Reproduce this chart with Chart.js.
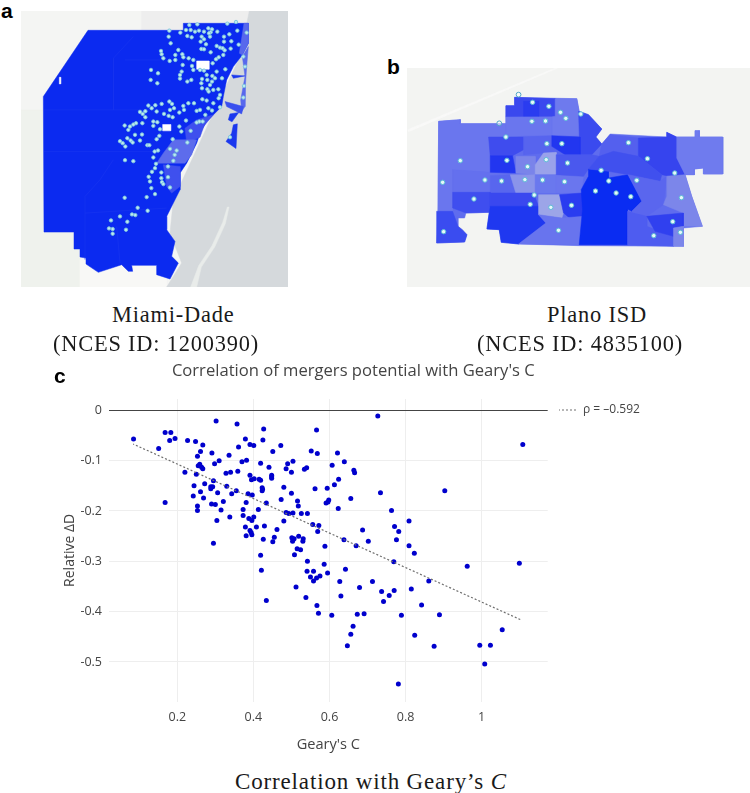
<!DOCTYPE html>
<html>
<head>
<meta charset="utf-8">
<title>School district mergers and Geary's C</title>
<script src="https://cdn.jsdelivr.net/npm/chart.js@4/dist/chart.umd.min.js"></script>
<style>
  html, body { margin: 0; padding: 0; background: #fff; width: 750px; height: 793px; overflow: hidden; }
  canvas { position: absolute; display: block; }
  .cap { position: absolute; font-family: "Liberation Serif", serif; color: #1a1a1a; white-space: nowrap; font-size: 22.4px; line-height: 29px; letter-spacing: 0.8px; }
  .tag { position: absolute; font-family: "Liberation Sans", sans-serif; font-weight: bold; font-size: 21px; line-height: 22px; color: #000; }
</style>
</head>
<body>
<canvas id="mapA" width="267" height="276" style="left:21px;top:11px"></canvas>
<canvas id="mapB" width="343" height="219" style="left:407px;top:68px"></canvas>
<canvas id="scatter" width="750" height="410" style="left:0;top:355px"></canvas>

<div class="tag" style="left:1px;top:0">a</div>
<div class="tag" style="left:387px;top:56px">b</div>
<div class="tag" style="left:54px;top:365px">c</div>
<div class="cap" style="left:112px;top:300px">Miami-Dade</div>
<div class="cap" style="left:53px;top:329px">(NCES ID: 1200390)</div>
<div class="cap" style="left:547px;top:300px">Plano ISD</div>
<div class="cap" style="left:477px;top:329px">(NCES ID: 4835100)</div>
<div class="cap" style="left:235px;top:767px;font-size:23px;letter-spacing:0.85px">Correlation with Geary’s <i>C</i></div>

<script>
// Panel c: each district's Geary's C and relative change in dissimilarity
const gearyC = [
  0.085,0.168,0.183,0.194,0.180,0.151,0.168,0.227,0.248,0.267,0.261,0.253,0.302,0.357,0.427,0.425,0.379,0.391,0.401,0.361,
  0.451,0.472,0.291,0.336,0.310,0.298,0.382,0.370,0.419,0.259,0.255,0.264,0.267,0.220,0.250,0.328,0.340,0.359,0.441,0.490,
  0.486,0.504,0.500,0.534,0.540,0.448,0.448,0.448,0.391,0.395,0.402,0.415,0.419,0.295,0.272,0.244,0.288,0.293,0.288,0.330,
  0.480,0.423,0.424,0.423,0.355,0.343,0.306,0.261,0.242,0.269,0.386,0.397,0.500,0.473,0.516,0.518,0.434,0.381,0.290,0.300,
  0.253,0.253,0.321,0.315,0.373,0.413,0.486,0.493,0.504,0.526,0.542,0.373,0.401,0.388,0.396,0.338,0.304,0.480,0.379,0.408,
  0.429,0.462,0.391,0.394,0.381,0.396,0.295,0.426,0.419,0.421,0.434,
  0.455,0.451,0.501,0.503,0.507,0.519,0.531,0.530,0.569,0.588,0.515,0.524,0.508,0.542,0.586,0.541,0.558,0.575,0.566,0.550,
  0.558,0.595,0.642,0.627,0.713,0.679,0.512,0.538,0.567,0.630,0.737,0.770,0.757,0.742,0.815,0.842,0.861,0.769,0.638,0.670,
  0.702,0.687,0.782,0.776,0.809,0.823,
  0.727,1.108,0.566,0.552,0.568,0.621,0.639,0.607,0.664,0.666,0.624,0.613,0.562,0.594,0.903,0.734,0.656,0.591,0.596,0.598,
  0.623,0.763,0.809,0.556,0.572,0.771,0.962,1.099,
  0.571,0.606,0.673,0.691,0.789,0.889,0.662,0.656,0.824,0.647,0.875,1.054,0.995,1.023,1.008,0.781
];
const relativeDeltaD = [
  -0.057,-0.044,-0.044,-0.056,-0.060,-0.076,-0.183,-0.060,-0.062,-0.069,-0.082,-0.091,-0.021,-0.027,-0.037,-0.059,-0.057,-0.068,-0.070,-0.073,
  -0.082,-0.070,-0.085,-0.089,-0.100,-0.106,-0.099,-0.102,-0.105,-0.107,-0.110,-0.113,-0.116,-0.123,-0.127,-0.125,-0.123,-0.121,-0.113,-0.106,
  -0.116,-0.101,-0.123,-0.117,-0.114,-0.129,-0.132,-0.135,-0.129,-0.138,-0.136,-0.137,-0.139,-0.140,-0.146,-0.150,-0.152,-0.152,-0.156,-0.151,
  -0.153,-0.154,-0.157,-0.160,-0.160,-0.166,-0.164,-0.162,-0.170,-0.174,-0.166,-0.168,-0.165,-0.177,-0.180,-0.190,-0.184,-0.183,-0.186,-0.187,
  -0.190,-0.199,-0.181,-0.198,-0.197,-0.197,-0.203,-0.205,-0.204,-0.205,-0.205,-0.209,-0.212,-0.215,-0.219,-0.212,-0.219,-0.220,-0.232,-0.232,
  -0.230,-0.237,-0.239,-0.243,-0.249,-0.247,-0.264,-0.256,-0.288,-0.318,-0.378,
  -0.252,-0.261,-0.253,-0.260,-0.255,-0.250,-0.255,-0.260,-0.241,-0.270,-0.275,-0.277,-0.287,-0.300,-0.306,-0.320,-0.320,-0.329,-0.333,-0.331,
  -0.339,-0.323,-0.316,-0.340,-0.340,-0.352,-0.351,-0.372,-0.388,-0.369,-0.360,-0.358,-0.368,-0.380,-0.355,-0.387,-0.339,-0.301,-0.257,-0.269,
  -0.260,-0.238,-0.241,-0.257,-0.269,-0.284,
  -0.011,-0.068,-0.039,-0.081,-0.086,-0.085,-0.102,-0.109,-0.119,-0.124,-0.137,-0.148,-0.156,-0.155,-0.160,-0.164,-0.175,-0.184,-0.182,-0.178,
  -0.195,-0.199,-0.220,-0.227,-0.229,-0.231,-0.310,-0.304,
  -0.403,-0.407,-0.405,-0.404,-0.407,-0.406,-0.429,-0.445,-0.447,-0.468,-0.469,-0.436,-0.467,-0.467,-0.504,-0.544
];
const fitC = [0.084, 1.105];
const fitDeltaD = [-0.067, -0.417];
const xTicks = [0.2, 0.4, 0.6, 0.8, 1];
const yTicks = [0, -0.1, -0.2, -0.3, -0.4, -0.5];
const rhoLabel = 'ρ = –0.592';

// Panel a: Miami-Dade regions, in the map's own grid units
const mapAExtent = { x: [63, 864], y: [33, 862] };
const mapARegions = [
  { color: '#f4f5f3', ring: [[63,33],[864,33],[864,862],[63,862]] },
  { color: '#eff2ed', ring: [[63,330],[240,330],[240,862],[63,862]] },
  { color: '#f8f8f6', ring: [[240,780],[500,780],[500,862],[240,862]] },
  { color: '#eeeeee', ring: [[425,33],[748,33],[748,72],[550,72],[550,91],[425,91]] },
  { color: '#d5d9dc', ring: [[748,33],[864,33],[864,862],[500,862],[545,790],[510,700],[520,600],[640,340],[720,170]] },
  { color: '#e9ecea', ring: [[682,622],[687,622],[676,672],[644,742],[604,802],[590,862],[572,862],[596,798],[636,738],[668,668]] },
  { color: '#0b2af0', ring: [[264,91],[550,91],[550,70],[745,70],[745,130],[727,165],[700,200],[680,240],[670,290],[665,320],[620,365],[600,400],[590,430],[560,490],[540,520],[540,570],[520,610],[500,650],[500,690],[525,725],[515,770],[535,790],[510,838],[470,825],[470,797],[395,797],[398,815],[385,815],[365,795],[295,818],[258,793],[258,775],[240,772],[240,748],[222,748],[222,697],[132,697],[130,290]] },
  { color: '#5868ec', ring: [[732,70],[745,70],[745,130],[727,165],[718,160]] },
  { color: '#5868ec', ring: [[727,170],[745,140],[740,200],[736,260],[735,320],[725,335],[722,300],[735,230]] },
  { color: '#3f50ee', ring: [[555,385],[590,360],[640,345],[612,378],[600,412],[560,428]] },
  { color: '#5d6cec', ring: [[520,420],[590,420],[575,465],[555,490],[470,490],[490,460]] },
  { color: '#3f50ee', ring: [[490,495],[540,500],[540,560],[515,580],[500,560]] },
  { color: '#1b38ee', ring: [[695,225],[735,228],[700,235]] },
  { color: '#3a50ee', ring: [[675,305],[730,320],[725,342],[680,320]] },
  { color: '#1b38ee', ring: [[690,342],[716,338],[696,366],[685,360]] },
  { color: '#1b38ee', ring: [[700,375],[712,372],[708,446],[678,425],[695,400]] },
  { color: '#ffffff', ring: [[590,183],[627,183],[627,208],[590,208]] },
  { color: '#ffffff', ring: [[488,374],[512,374],[512,393],[488,393]] },
  { color: '#ffffff', ring: [[178,232],[182,232],[182,252],[178,252]] }
];
// Faint tract boundaries inside the Miami-Dade fill
const mapABoundaries = [
  [[400,110],[340,175],[340,330]],
  [[132,330],[500,330]],
  [[132,455],[470,455]],
  [[255,780],[255,590],[300,540],[340,480]],
  [[255,640],[500,625]],
  [[350,680],[360,790]],
  [[375,180],[480,180]]
];
const mapASchools = [
  [508,92],[541,98],[558,90],[568,75],[592,73],[572,90],[585,95],[597,92],[612,95],[625,85],[636,88],[652,95],[632,97],[627,100],[682,71],[708,66],[712,92],[740,98],
  [562,108],[575,112],[605,110],[612,118],[630,110],[688,103],[672,110],[506,110],[512,130],[602,125],[618,133],[650,138],[672,125],[694,124],[716,134],
  [604,147],[612,148],[632,157],[660,143],[668,145],[674,151],[692,146],[535,150],[483,153],[485,163],[490,175],[526,165],[547,163],[550,172],[526,180],[509,183],
  [566,175],[580,180],[656,172],[648,178],[638,190],[670,165],[730,170],[735,200],[548,195],[576,198],[580,210],[600,210],[612,212],[650,215],[676,208],[545,215],[540,225],
  [453,210],[474,220],[452,240],[472,250],[540,236],[562,245],[574,240],[606,237],[620,225],[637,228],[645,235],[666,235],[622,240],[636,245],[630,255],[604,250],[606,265],
  [622,268],[640,270],[655,268],[626,275],[660,285],[656,295],[732,258],[730,293],[607,298],[620,302],[640,310],[508,305],[445,317],[466,316],[485,312],[516,312],[522,325],
  [510,330],[550,318],[552,330],[565,310],[582,310],[600,330],[625,325],[636,332],[660,322],[590,333],[455,325],[436,334],[420,336],[428,342],[436,352],[492,342],[506,348],
  [518,352],[470,335],[538,338],[460,365],[472,367],[408,370],[400,374],[390,380],[374,377],[427,370],[460,378],[480,388],[538,380],[558,362],[616,345],[598,365],[590,368],
  [608,365],[385,390],[405,405],[426,404],[382,415],[478,408],[470,418],[518,418],[544,395],[572,393],[360,424],[368,430],[376,440],[392,422],[398,428],[420,422],[442,436],
  [448,436],[562,428],[510,447],[530,452],[524,465],[474,452],[464,455],[460,473],[375,481],[400,484],[520,483],[468,492],[465,505],[456,516],[504,500],[484,518],[446,531],
  [450,545],[484,535],[486,547],[490,553],[504,532],[510,563],[454,565],[465,583],[440,592],[374,594],[413,624],[396,644],[406,646],[443,633],[360,650],[333,662],[382,666],
  [327,686],[338,688],[378,690],[338,702],[690,412]
];

// Panel b: Plano ISD attendance zones, shaded by share, in the map's own grid units
const mapBExtent = { x: [95, 1125], y: [55, 712] };
const mapBRegions = [
  { color: '#f3f4f2', ring: [[95,55],[1125,55],[1125,712],[95,712]] },
  { color: '#f9f9f8', ring: [[97,240],[540,55],[548,55],[100,246]] },
  { color: '#5f6cee', ring: [[190,215],[255,210],[255,222],[392,222],[392,168],[418,168],[418,143],[605,147],[612,185],[640,195],[680,238],[662,262],[680,283],[705,253],[875,262],[875,248],[903,262],[960,262],[960,243],[973,243],[973,262],[1043,262],[1043,373],[985,373],[985,355],[958,358],[958,375],[930,375],[950,440],[982,530],[925,535],[925,590],[612,588],[430,583],[378,578],[372,540],[335,538],[342,488],[272,490],[268,505],[248,505],[248,530],[262,540],[275,555],[268,577],[184,580],[188,485]] },
  { color: '#6a76ee', ring: [[190,215],[255,210],[255,222],[392,222],[392,262],[340,262],[345,368],[232,360],[232,428],[232,485],[188,485]] },
  { color: '#6470ee', ring: [[232,360],[345,368],[405,375],[422,430],[232,428]] },
  { color: '#5866ee', ring: [[345,378],[405,375],[420,430],[345,430]] },
  { color: '#3a48ee', ring: [[392,168],[418,168],[418,143],[540,147],[540,200],[392,202]] },
  { color: '#2a3cf0', ring: [[445,155],[490,155],[490,200],[445,200]] },
  { color: '#6e7aee', ring: [[540,147],[605,147],[612,185],[610,258],[530,258],[530,202],[540,200]] },
  { color: '#6a76ee', ring: [[392,202],[530,202],[530,258],[445,258],[392,262]] },
  { color: '#3a4aef', ring: [[610,185],[640,195],[680,238],[662,262],[680,283],[650,315],[615,315]] },
  { color: '#3f4cee', ring: [[340,262],[445,262],[445,300],[412,318],[345,318]] },
  { color: '#2236f0', ring: [[345,318],[412,318],[422,370],[345,368]] },
  { color: '#5764ee', ring: [[445,262],[530,258],[530,290],[570,315],[505,310],[445,315]] },
  { color: '#2236f0', ring: [[530,258],[615,262],[615,315],[570,315],[530,290]] },
  { color: '#7a84ea', ring: [[422,320],[480,320],[480,375],[422,370]] },
  { color: '#9aa2ea', ring: [[480,345],[505,310],[543,308],[543,375],[480,375]] },
  { color: '#8a94ea', ring: [[405,375],[480,375],[480,430],[422,430]] },
  { color: '#6a78ee', ring: [[480,375],[543,375],[543,430],[480,430]] },
  { color: '#6a76ee', ring: [[543,375],[625,380],[618,430],[543,430]] },
  { color: '#4a58ee', ring: [[543,315],[650,315],[672,320],[640,358],[625,380],[543,375]] },
  { color: '#3f4eef', ring: [[232,428],[345,428],[345,470],[342,488],[272,490],[232,475]] },
  { color: '#3a4cf0', ring: [[184,485],[232,485],[248,530],[275,555],[268,577],[184,580]] },
  { color: '#3a48ef', ring: [[345,430],[475,430],[490,470],[345,470]] },
  { color: '#1f38f0', ring: [[345,470],[490,470],[490,495],[512,520],[430,583],[378,578],[372,540],[335,538],[342,488]] },
  { color: '#9ca5e8', ring: [[490,435],[553,435],[565,490],[560,505],[490,495]] },
  { color: '#2a3cf0', ring: [[553,435],[620,430],[630,480],[625,500],[595,515],[565,490]] },
  { color: '#6874ee', ring: [[490,495],[560,505],[625,500],[612,585],[430,583],[512,520]] },
  { color: '#0a2cf2', ring: [[640,358],[700,365],[700,385],[757,375],[800,455],[770,485],[757,478],[757,585],[612,585],[622,480],[618,420],[640,380]] },
  { color: '#5460ee', ring: [[705,255],[790,265],[790,322],[715,305],[672,320],[680,283]] },
  { color: '#3644ee', ring: [[790,265],[875,262],[875,248],[905,262],[905,325],[930,375],[875,378],[860,375],[790,320]] },
  { color: '#4050ee', ring: [[672,320],[715,305],[790,320],[860,375],[855,395],[760,375],[700,365],[640,358]] },
  { color: '#5a66ee', ring: [[760,375],[855,395],[875,380],[865,465],[815,500],[770,485],[800,455]] },
  { color: '#6f7bee', ring: [[905,262],[960,262],[960,243],[973,243],[973,262],[1043,262],[1043,373],[985,373],[985,355],[958,358],[958,375],[930,375],[905,325]] },
  { color: '#7c86ea', ring: [[875,380],[930,375],[950,440],[982,530],[925,530],[925,490],[865,465],[875,440]] },
  { color: '#4e5cf0', ring: [[757,485],[815,500],[815,530],[895,560],[895,590],[757,585]] },
  { color: '#3040ef', ring: [[815,500],[925,490],[925,530],[895,535],[895,560],[840,545]] },
  { color: '#7c86ea', ring: [[895,535],[925,530],[925,590],[895,590]] }
];
const mapBSchools = [
  [472,158],[521,170],[556,188],[572,206],[617,193],[470,215],[511,214],[392,262],[515,282],[560,282],[760,279],[255,333],[395,332],[513,330],[577,340],[817,327],
  [457,351],[678,362],[899,370],[329,391],[379,394],[449,390],[502,391],[568,396],[701,394],[785,392],[202,398],[661,424],[723,430],[767,441],[477,436],[919,444],
  [296,448],[465,464],[527,473],[589,467],[893,516],[550,542],[205,546],[916,548],[836,558]
];
const mapBOutsideSchools = [[430,135],[372,221]];

const toPoints = pairs => pairs.map(([x, y]) => ({ x, y }));

// Draws one map: filled regions as closed scatter lines, school markers above them
function drawMap(id, extent, regions, schools, markerStyle, outside, boundaries) {
  const regionSets = regions.slice().reverse().map(r => ({
    data: toPoints(r.ring.concat([r.ring[0]])),
    showLine: true, fill: 'shape', backgroundColor: r.color,
    borderColor: r.color, borderWidth: 0.5, pointRadius: 0, tension: 0
  }));
  const boundarySets = (boundaries || []).map(path => ({
    data: toPoints(path), showLine: true, fill: false,
    borderColor: '#1a36f0', borderWidth: 0.6, pointRadius: 0
  }));
  const markerSets = [Object.assign({ data: toPoints(schools), showLine: false }, markerStyle)];
  if (outside) {
    markerSets.push({
      data: toPoints(outside), showLine: false, pointRadius: 2.4,
      backgroundColor: 'rgba(255,255,255,0.5)', borderColor: '#4fa6c8', borderWidth: 1
    });
  }
  new Chart(document.getElementById(id), {
    type: 'scatter',
    data: { datasets: markerSets.concat(boundarySets, regionSets) },
    options: {
      responsive: false, animation: false,
      layout: { padding: 0, autoPadding: false },
      plugins: { legend: { display: false }, tooltip: { enabled: false }, title: { display: false } },
      scales: {
        x: { display: false, min: extent.x[0], max: extent.x[1] },
        y: { display: false, min: extent.y[0], max: extent.y[1], reverse: true }
      }
    }
  });
}
drawMap('mapA', mapAExtent, mapARegions, mapASchools,
  { pointRadius: 1.7, backgroundColor: '#bfe9ef', borderColor: '#7cc6dc', borderWidth: 0.9 },
  null, mapABoundaries);
drawMap('mapB', mapBExtent, mapBRegions, mapBSchools,
  { pointRadius: 2.2, backgroundColor: '#e6f8f8', borderColor: '#5cbcd6', borderWidth: 1 },
  mapBOutsideSchools);

// Panel c: scatter with fitted trend line and a single legend entry for it
const ink = '#444';
const sans = '"Open Sans", sans-serif';
new Chart(document.getElementById('scatter'), {
  type: 'scatter',
  data: {
    datasets: [
      {
        label: rhoLabel,
        data: fitC.map((x, i) => ({ x, y: fitDeltaD[i] })),
        showLine: true, pointRadius: 0, borderColor: '#6e6e6e', borderWidth: 1.2,
        borderDash: [2, 2], borderDashOffset: 1, fill: false
      },
      {
        label: 'Districts',
        data: gearyC.map((x, i) => ({ x, y: relativeDeltaD[i] })),
        pointRadius: 2.5, pointBackgroundColor: '#0000cd', pointBorderWidth: 0
      }
    ]
  },
  options: {
    responsive: false, animation: false,
    layout: { autoPadding: false, padding: { left: 62, right: 105.4, top: 0, bottom: 0 } },
    plugins: {
      tooltip: { enabled: false },
      title: {
        display: true, text: "Correlation of mergers potential with Geary's C",
        color: ink, font: { family: sans, size: 16.6, weight: 'normal' },
        padding: { top: 6.2, bottom: 17.9 }
      },
      legend: {
        position: 'right', align: 'start',
        labels: {
          boxWidth: 18, boxHeight: 0, padding: 6, color: ink,
          font: { family: sans, size: 12 },
          filter: item => item.datasetIndex === 0
        }
      }
    },
    scales: {
      x: {
        type: 'linear', min: 0.0205, max: 1.1735,
        afterBuildTicks: s => { s.ticks = xTicks.map(value => ({ value })); },
        afterFit: s => { s.height = 63.3; },
        border: { display: false },
        grid: { color: '#eeeeee', drawTicks: false },
        ticks: { color: ink, font: { family: sans, size: 12.5 }, padding: 8, maxRotation: 0, callback: v => String(v) },
        title: { display: true, text: "Geary's C", color: ink, font: { family: sans, size: 14.6 }, padding: { top: 10, bottom: 11 } }
      },
      y: {
        type: 'linear', min: -0.579, max: 0.0225,
        afterBuildTicks: s => { s.ticks = yTicks.map(value => ({ value })); },
        afterFit: s => { s.width = 47; },
        border: { display: false },
        grid: {
          color: c => (c.tick && c.tick.value === 0 ? '#444444' : '#eeeeee'),
          drawTicks: false
        },
        ticks: { color: ink, font: { family: sans, size: 12.5 }, padding: 7, callback: v => String(v) },
        title: { display: true, text: 'Relative ΔD', color: ink, font: { family: sans, size: 14 }, padding: 0 }
      }
    }
  },
  plugins: [{
    id: 'legendOffset',
    afterLayout(chart) { chart.legend.left += 5.3; chart.legend.top = 43; }
  }]
});
</script>
</body>
</html>
